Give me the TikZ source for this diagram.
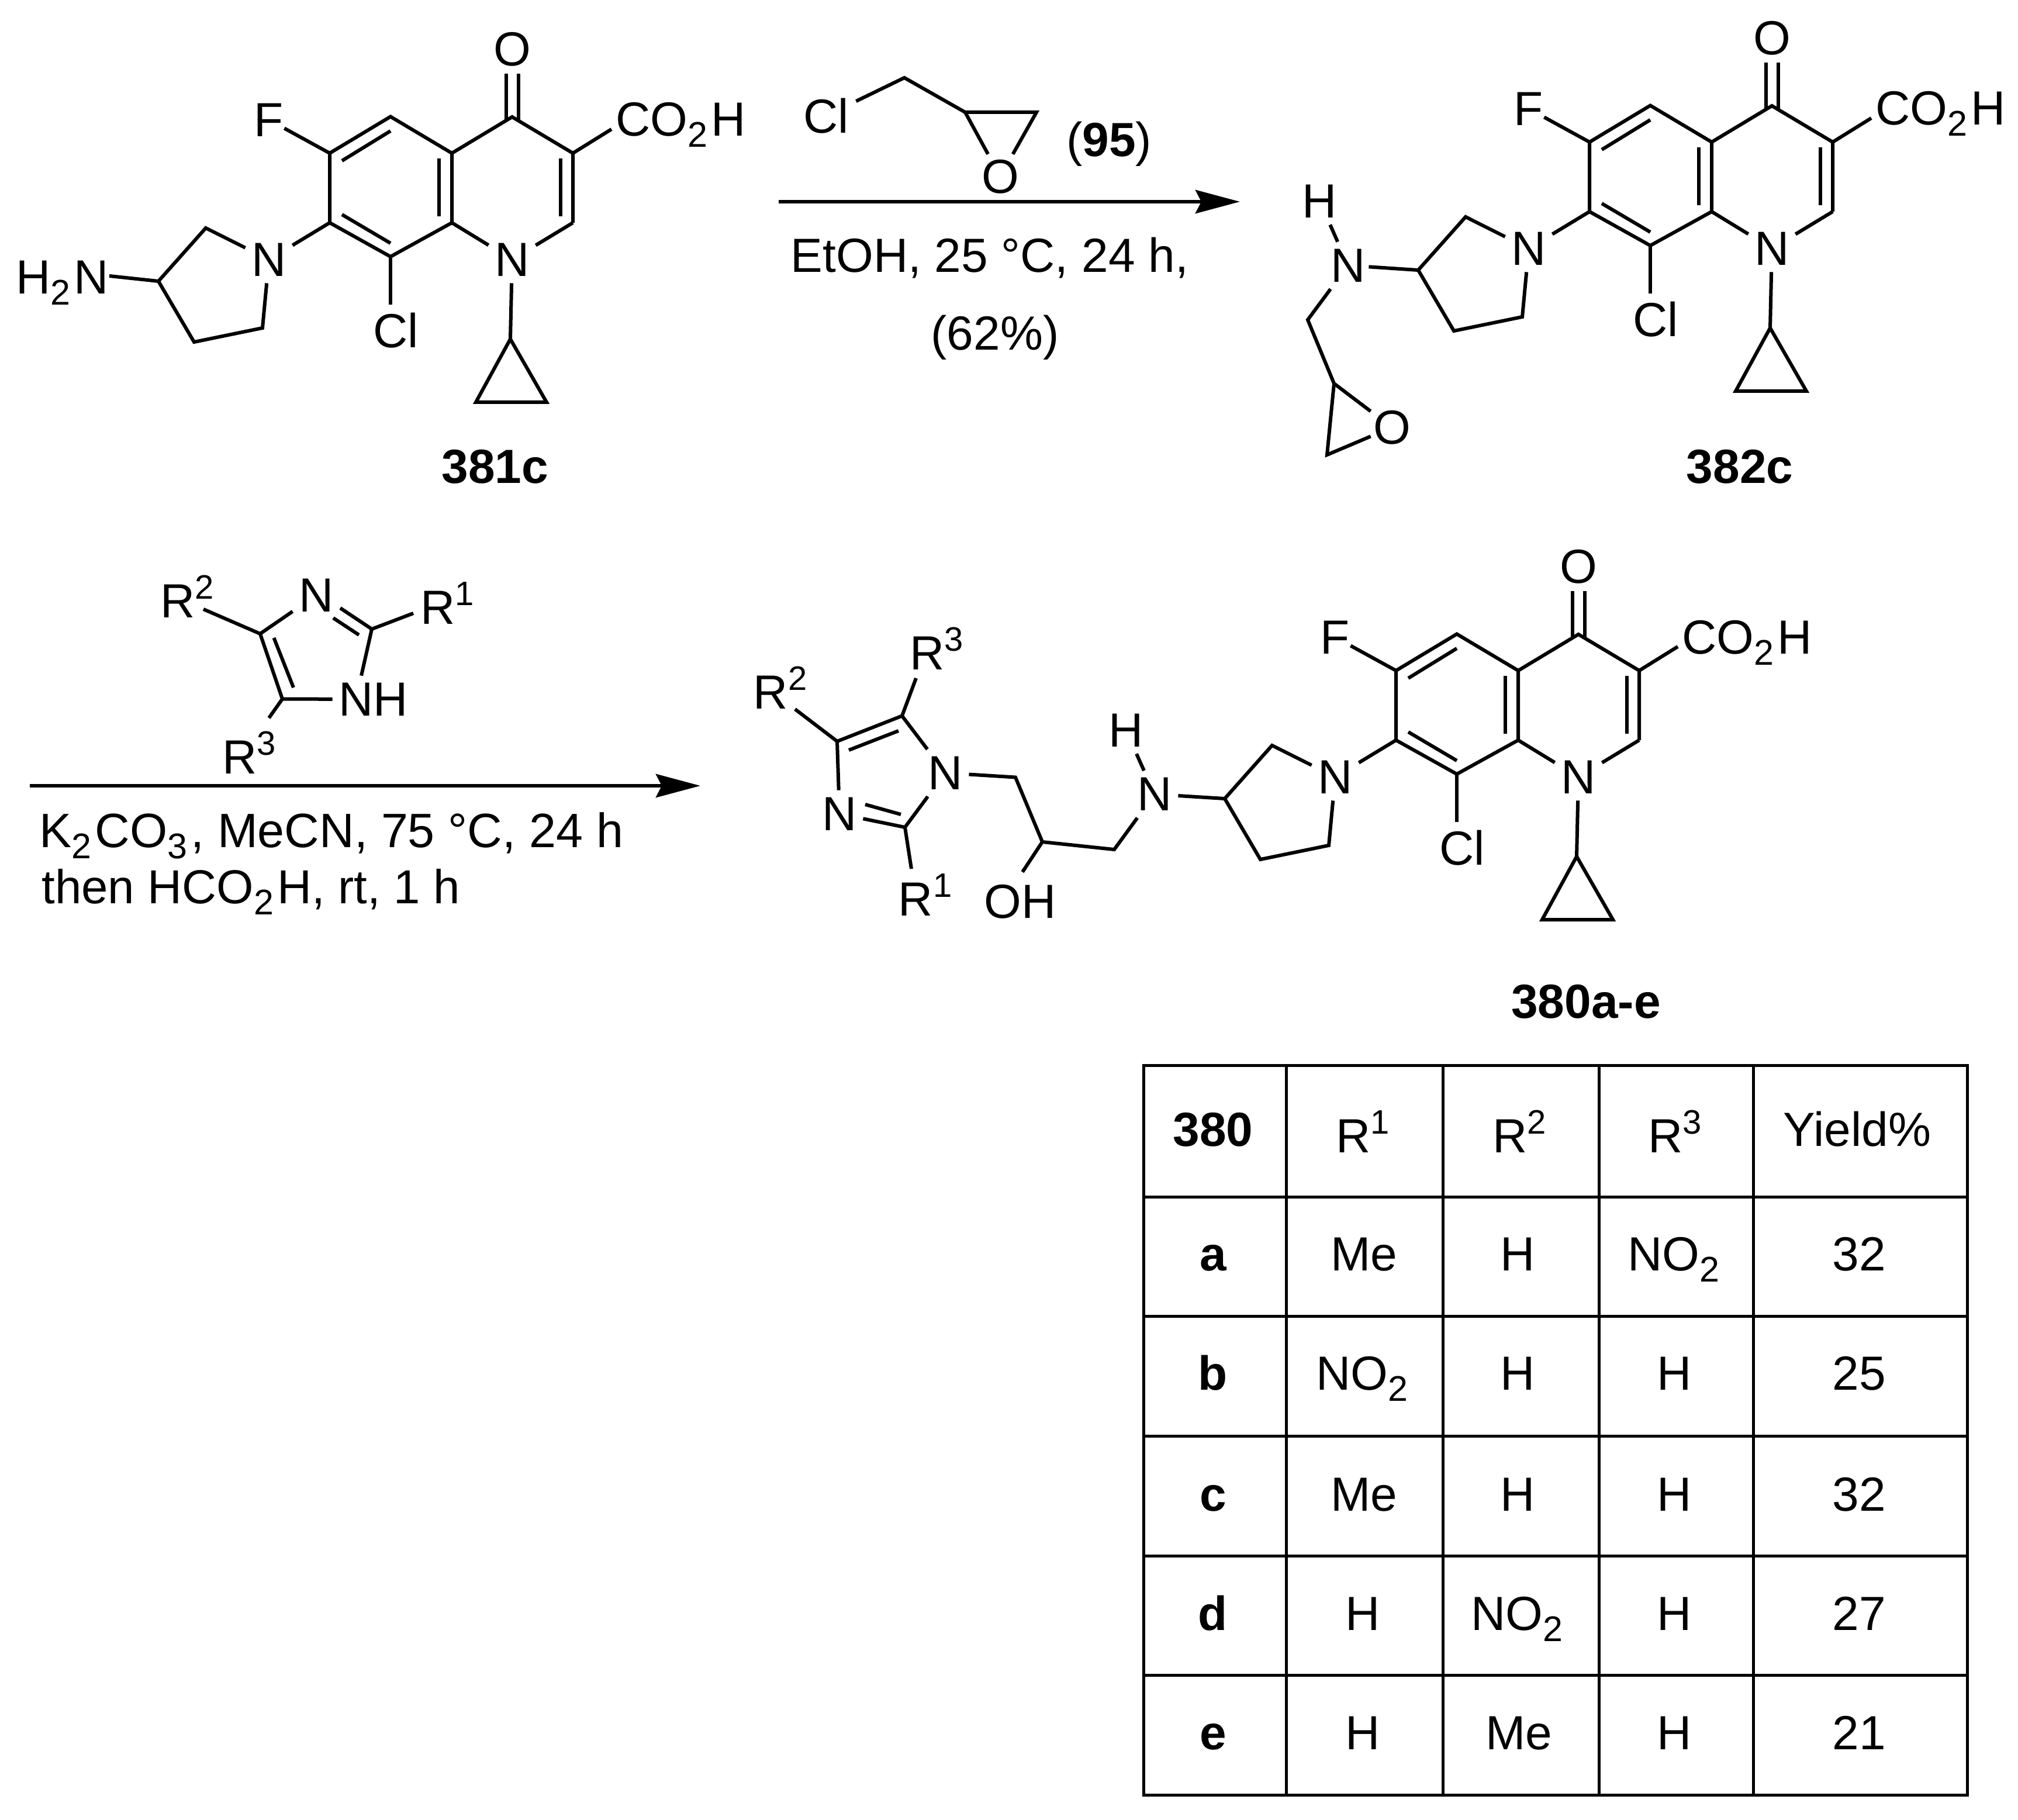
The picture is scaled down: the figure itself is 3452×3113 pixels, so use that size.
\documentclass[tikz,border=0pt]{standalone}
\usepackage{fontspec}
\setmainfont{Liberation Sans}
\usetikzlibrary{arrows.meta}
\newcommand{\sbs}[1]{\raisebox{-9.5pt}{\fontsize{30.5}{30.5}\selectfont #1}\kern 3pt}
\newcommand{\sps}[1]{\raisebox{16pt}{\fontsize{29}{29}\selectfont #1}}
\tikzset{
  bond/.style={line width=3pt,line join=miter,line cap=butt,black},
  tline/.style={line width=2.5pt,line cap=rect,black},
  rxn/.style={line width=3.2pt,black,-{Stealth[length=38pt,width=20pt,inset=5pt]}},
  atom/.style={inner sep=0pt,minimum width=40pt,minimum height=40pt,font=\fontsize{41}{45}\selectfont},
  lab/.style={inner sep=0pt,font=\fontsize{41}{45}\selectfont},
  blab/.style={inner sep=0pt,anchor=base,font=\fontsize{41}{45}\selectfont\bfseries},
  cell/.style={lab,anchor=base}
}
% quinolone core: #1,#2 shift; #3 name prefix
\newcommand{\quinolone}[3]{%
\begin{scope}[shift={(#1,#2)},name prefix=#3-]
  \coordinate (c4) at (876,200);
  \coordinate (c3) at (980,262);
  \coordinate (c2) at (980,381);
  \coordinate (c8a) at (773,381);
  \coordinate (c4a) at (773,262);
  \coordinate (c5) at (668,199.5);
  \coordinate (c6) at (564,262);
  \coordinate (c7) at (564,381);
  \coordinate (c8) at (668,439);
  \coordinate (cp) at (873,580);
  \coordinate (cpl) at (814,688);
  \coordinate (cpr) at (935,688);
  \coordinate (py2) at (352,390);
  \coordinate (py3) at (271,481);
  \coordinate (py4) at (332,585);
  \coordinate (py5) at (449,561);
  \coordinate (co2b) at (1046,221);
  \coordinate (d1a) at (585,275);
  \coordinate (d1b) at (668,224);
  \coordinate (d2a) at (751,271);
  \coordinate (d2b) at (751,370);
  \coordinate (d3a) at (585,367);
  \coordinate (d3b) at (668,416);
  \coordinate (d4a) at (958.5,271);
  \coordinate (d4b) at (958.5,370);
  \node[atom,minimum height=42pt] (o) at (876,84) {O};
  \node[atom] (n1) at (876,444) {N};
  \node[atom] (n7) at (460,444) {N};
  \node[atom,minimum width=26pt,minimum height=26pt] (f) at (460,205) {F};
  \node[atom,minimum height=44pt] (cl) at (677,565) {Cl};
  \node[lab,anchor=base west] (co2h) at (1053,233) {CO\sbs{2}H};
  \draw[bond] (c2) -- (c3) -- (c4) -- (c4a) -- (c8a) -- (c8) -- (c7) -- (c6) -- (c5) -- (c4a);
  \draw[bond] (c8a) -- (n1);
  \draw[bond] (c2) -- (n1);
  \draw[bond] (c3) -- (co2b);
  \draw[bond] (c6) -- (f);
  \draw[bond] (c7) -- (n7);
  \draw[bond] (c8) -- (c8 |- cl.north);
  \draw[bond] ([xshift=-5.25pt]o.south) -- ([xshift=-5.25pt,yshift=-3pt]c4);
  \draw[bond] ([xshift=5.25pt]o.south) -- ([xshift=5.25pt,yshift=-3pt]c4);
  \draw[bond] (d1a) -- (d1b);
  \draw[bond] (d2a) -- (d2b);
  \draw[bond] (d3a) -- (d3b);
  \draw[bond] (d4a) -- (d4b);
  \draw[bond] (n1) -- (cp);
  \draw[bond] (cp) -- (cpl) -- (cpr) -- cycle;
  \draw[bond] (n7) -- (py2) -- (py3) -- (py4) -- (py5) -- (n7);
\end{scope}}
\begin{document}
\begin{tikzpicture}[x=0.5pt,y=-0.5pt]
\useasboundingbox (0,0) rectangle (3452,3113);

% --- molecule 381c
\quinolone{0}{0}{a}
\node[lab,anchor=base west] (h2n) at (27,503) {H\sbs{2}N};
\coordinate (h2nb) at (187,472);
\draw[bond] (h2nb) -- (a-py3);
\node[blab] (l381) at (847,826.5) {381c};

% --- reagent 95
\node[atom,minimum width=51pt] (cl95) at (1413,198) {Cl};
\coordinate (ch95) at (1547,133);
\coordinate (c95) at (1651,192);
\coordinate (c95r) at (1773,192);
\node[atom,minimum height=38pt] (o95) at (1711,302) {O};
\draw[bond] (cl95) -- (ch95) -- (c95) -- (c95r) -- (o95);
\draw[bond] (c95) -- (o95);
\node[lab,anchor=base] (l95) at (1897,268) {(\textbf{95})};
\coordinate (a1s) at (1332,345);
\coordinate (a1e) at (2121,345);
\draw[rxn] (a1s) -- (a1e);
\node[lab,anchor=base west] (t1) at (1352.5,466) {EtOH, 25 °C, 24 h,};
\node[lab,anchor=base] (t2) at (1702,599) {(62\%)};

% --- molecule 382c
\quinolone{2155}{-19}{b}
\node[atom,minimum width=35pt] (bn) at (2306,454) {N};
\node[atom] (bh) at (2257.5,344) {H};
\coordinate (bch2) at (2237,547);
\coordinate (bch) at (2282,656);
\coordinate (bca) at (2270,778);
\node[atom,minimum width=36pt,minimum height=36pt] (bo) at (2381,731) {O};
\draw[bond] (bn) -- (bh);
\draw[bond] (bn) -- (b-py3);
\draw[bond] (bn) -- (bch2) -- (bch) -- (bo);
\draw[bond] (bch) -- (bca) -- (bo);
\node[blab] (l382) at (2976,826.5) {382c};

% --- imidazole reagent
\node[atom] (in) at (541,1018) {N};
\node[atom] (inh) at (609,1196) {N};
\node[lab,anchor=base west] (ih) at (638,1224.5) {H};
\coordinate (ic4) at (445,1084);
\coordinate (ic5) at (483,1195.5);
\coordinate (ic2) at (636,1076);
\coordinate (id1a) at (614,1086);
\coordinate (id1b) at (570,1057);
\coordinate (id2a) at (468.5,1091);
\coordinate (id2b) at (502,1176);
\coordinate (ir2b) at (348,1042);
\coordinate (ir1b) at (707,1049);
\coordinate (ir3b) at (460,1228);
\coordinate (idbl) at (582,1040);
\node[lab,anchor=base west] (ir2) at (274,1056) {R\sps{2}};
\node[lab,anchor=base west] (ir1) at (719,1067) {R\sps{1}};
\node[lab,anchor=base west] (ir3) at (380,1323) {R\sps{3}};
\draw[bond] (in) -- (ic4) -- (ic5) -- (inh);
\draw[bond] (inh) -- (ic2) -- (idbl);
\draw[bond] (id1a) -- (id1b);
\draw[bond] (id2a) -- (id2b);
\draw[bond] (ic4) -- (ir2b);
\draw[bond] (ic2) -- (ir1b);
\draw[bond] (ic5) -- (ir3b);
\coordinate (a2s) at (51,1344);
\coordinate (a2e) at (1198,1344);
\draw[rxn] (a2s) -- (a2e);
\node[lab,anchor=base west,font=\fontsize{41.3}{46}\selectfont] (t3) at (67,1449) {K\sbs{2}CO\sbs{3}, MeCN, 75 °C, 24 h};
\node[lab,anchor=base west,font=\fontsize{40.8}{46}\selectfont] (t4) at (71,1545) {then HCO\sbs{2}H, rt, 1 h};

% --- product 380a-e
\quinolone{1824}{885}{c}
\node[atom] (pn1) at (1617,1322) {N};
\node[atom] (pn3) at (1436,1392) {N};
\coordinate (pc5) at (1543,1224.5);
\coordinate (pc4) at (1432,1268);
\coordinate (pc2) at (1548,1415);
\coordinate (pd1a) at (1537,1250);
\coordinate (pd1b) at (1452,1283);
\coordinate (pd2a) at (1480,1376);
\coordinate (pd2b) at (1541,1393);
\coordinate (pr3b) at (1567,1160);
\coordinate (pr2b) at (1360,1213);
\coordinate (pr1b) at (1559,1486);
\coordinate (pch2a) at (1737,1329.5);
\coordinate (pchoh) at (1783,1440);
\coordinate (pch2b) at (1906,1453);
\coordinate (pohb) at (1749,1491.5);
\node[lab,anchor=base west] (pr3) at (1556,1145.5) {R\sps{3}};
\node[lab,anchor=base west] (pr2) at (1288.5,1212) {R\sps{2}};
\node[lab,anchor=base west] (pr1) at (1536.5,1566) {R\sps{1}};
\node[lab,anchor=base west] (poh) at (1683,1570) {OH};
\node[atom] (pnh) at (1975,1358.5) {N};
\node[atom] (phh) at (1926,1249) {H};
\draw[bond] (pn3) -- (pc4) -- (pc5) -- (pn1);
\draw[bond] (pn1) -- (pc2) -- (pn3);
\draw[bond] (pd1a) -- (pd1b);
\draw[bond] (pd2a) -- (pd2b);
\draw[bond] (pc5) -- (pr3b);
\draw[bond] (pc4) -- (pr2b);
\draw[bond] (pc2) -- (pr1b);
\draw[bond] (pn1) -- (pch2a) -- (pchoh) -- (pch2b) -- (pnh);
\draw[bond] (pchoh) -- (pohb);
\draw[bond] (pnh) -- (phh);
\draw[bond] (pnh) -- (c-py3);
\node[blab] (l380) at (2713,1741) {380a-e};

% --- table
\foreach \xx in {1956,2200,2468,2735,2999,3365}{
  \draw[tline] (\xx,1822) -- (\xx,3070);
}
\foreach \yy in {1822,2047,2251,2456,2661,2865,3070}{
  \draw[tline] (1956,\yy) -- (3365,\yy);
}
\node[blab] (th0) at (2075,1960) {380};
\node[cell] (th1) at (2331,1971) {R\sps{1}};
\node[cell] (th2) at (2599,1971) {R\sps{2}};
\node[cell] (th3) at (2865,1971) {R\sps{3}};
\node[cell] (th4) at (3177,1960) {Yield\%};
\node[blab] (ta0) at (2075,2173) {a};
\node[cell] (ta1) at (2333,2173) {Me};
\node[cell] (ta2) at (2596,2173) {H};
\node[cell] (ta3) at (2866,2173) {NO\sbs{2}};
\node[cell] (ta4) at (3180,2173) {32};
\node[blab] (tb0) at (2075,2377) {b};
\node[cell] (tb1) at (2333,2377) {NO\sbs{2}};
\node[cell] (tb2) at (2596,2377) {H};
\node[cell] (tb3) at (2864,2377) {H};
\node[cell] (tb4) at (3180,2377) {25};
\node[blab] (tc0) at (2075,2584) {c};
\node[cell] (tc1) at (2333,2584) {Me};
\node[cell] (tc2) at (2596,2584) {H};
\node[cell] (tc3) at (2864,2584) {H};
\node[cell] (tc4) at (3180,2584) {32};
\node[blab] (td0) at (2075,2788) {d};
\node[cell] (td1) at (2331,2788) {H};
\node[cell] (td2) at (2598,2788) {NO\sbs{2}};
\node[cell] (td3) at (2864,2788) {H};
\node[cell] (td4) at (3180,2788) {27};
\node[blab] (te0) at (2075,2992.5) {e};
\node[cell] (te1) at (2331,2992.5) {H};
\node[cell] (te2) at (2598,2992.5) {Me};
\node[cell] (te3) at (2864,2992.5) {H};
\node[cell] (te4) at (3180,2992.5) {21};
\end{tikzpicture}
\end{document}
